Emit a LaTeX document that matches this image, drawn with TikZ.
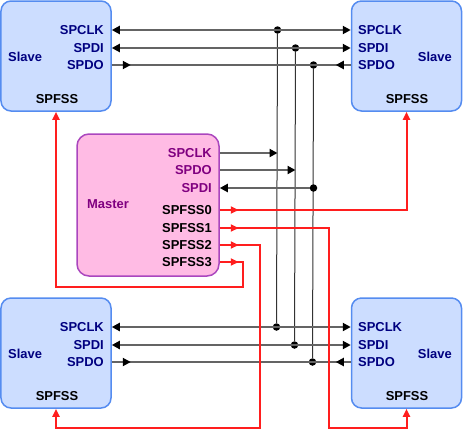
\documentclass[tikz,border=0pt]{standalone}
\usepackage{fontspec}
\setmainfont{Liberation Sans}
\usetikzlibrary{arrows.meta}
\usetikzlibrary{positioning}

\definecolor{slavefill}{RGB}{204,221,255}
\definecolor{slaveline}{RGB}{85,140,240}
\definecolor{masterfill}{RGB}{255,187,228}
\definecolor{masterline}{RGB}{170,70,190}
\definecolor{slavetext}{RGB}{0,0,128}
\definecolor{mastertext}{RGB}{128,0,128}
\definecolor{sigline}{RGB}{100,100,100}
\definecolor{selline}{RGB}{255,30,30}

\begin{document}
\begin{tikzpicture}
	[x=1bp,y=-1bp,every node/.style={inner sep=0pt,font=\bfseries\fontsize{13}{15}\selectfont},
	slave/.style={draw=slaveline,fill=slavefill,line width=1.5bp,rounded corners=10bp,minimum width=110bp,minimum height=110bp},
	master/.style={draw=masterline,fill=masterfill,line width=1.5bp,rounded corners=12bp,minimum width=142bp,minimum height=142bp},
	spin/.style={text=slavetext},
	mpin/.style={text=mastertext},
	dot/.style={circle,fill=black,minimum size=7.5bp},
	sig/.style={draw=sigline,line width=2bp,>={Triangle[length=8bp,width=8bp]},arrows={[color=black]}},
	bus/.style={draw=black!80,line width=1bp},
	sel/.style={draw=selline,line width=2bp,>={Triangle[length=8bp,width=7bp]}}]
	\useasboundingbox (0,0) rectangle (463,431);

	% slaves
	\node[slave] (sa) at (56,56) {};
	\node[slave] (sb) at (406.5,56) {};
	\node[slave] (sc) at (56,353) {};
	\node[slave] (sd) at (406.5,353) {};
	\foreach \b/\y in {a/0,c/297} {
		\node[spin,anchor=east] (s\b clk) at (104,30+\y) {SPCLK};
		\node[spin,anchor=east] (s\b di) at (104,48+\y) {SPDI};
		\node[spin,anchor=east] (s\b do) at (104,65+\y) {SPDO};
		\node[spin,anchor=west] (s\b name) at (8,57+\y) {Slave};
		\node (s\b ss) at (57,99+\y) {SPFSS};
	}
	\foreach \b/\y in {b/0,d/297} {
		\node[spin,anchor=west] (s\b clk) at (358,30+\y) {SPCLK};
		\node[spin,anchor=west] (s\b di) at (358,48+\y) {SPDI};
		\node[spin,anchor=west] (s\b do) at (358,65+\y) {SPDO};
		\node[spin,anchor=east] (s\b name) at (452,57+\y) {Slave};
		\node (s\b ss) at (407,99+\y) {SPFSS};
	}

	% master
	\node[master] (m) at (148,205) {};
	\node[mpin,anchor=west] (mname) at (87,204) {Master};
	\node[mpin,anchor=east] (mclk) at (212,153) {SPCLK};
	\node[mpin,anchor=east] (mdo) at (212,170) {SPDO};
	\node[mpin,anchor=east] (mdi) at (212,188) {SPDI};
	\node[anchor=east] (mss0) at (212,210) {SPFSS0};
	\node[anchor=east] (mss1) at (212,228) {SPFSS1};
	\node[anchor=east] (mss2) at (212,245) {SPFSS2};
	\node[anchor=east] (mss3) at (212,262) {SPFSS3};

	% bus lines between slaves
	\foreach \p/\x in {clk/277.5,di/295.5,do/313.5} {
		\node[dot] (t\p) at (\x,0 |- sa\p) {};
		\node[dot] (b\p) at (\x-1,0 |- sc\p) {};
		\draw[bus] (t\p) -- (b\p);
	}
	\foreach \u/\v in {a/b,c/d} {
		\draw[sig,<->] (s\u.east |- s\u clk) -- (s\v.west |- s\v clk);
		\draw[sig,<->] (s\u.east |- s\u di) -- (s\v.west |- s\v di);
		\draw[sig] (s\u.east |- s\u do) -- (s\v.west |- s\v do);
		\draw[sig,->] (s\u.east |- s\u do) -- ++(19,0);
		\draw[sig,->] (s\v.west |- s\v do) -- ++(-15,0);
	}

	% master to bus
	\draw[sig,->] (m.east |- mclk) -- (mclk -| tclk);
	\draw[sig,->] (m.east |- mdo) -- (mdo -| tdi);
	\node[dot] (jdi) at (mdi -| tdo) {};
	\draw[sig,->] (jdi) -- (m.east |- mdi);

	% slave select lines
	\coordinate (r1) at (329,428);
	\coordinate (r2) at (260,428);
	\coordinate (r3) at (243,287);
	\draw[sel,->] (m.east |- mss0) -| (sb.south);
	\draw[sel,->] (m.east |- mss1) -| (r1) -| (sd.south);
	\draw[sel,->] (m.east |- mss2) -| (r2) -| (sc.south);
	\draw[sel,->] (m.east |- mss3) -| (r3) -| (sa.south);
	\foreach \i in {0,1,2,3}
		\draw[sel,->] (m.east |- mss\i) -- ++(19,0);
\end{tikzpicture}
\end{document}
